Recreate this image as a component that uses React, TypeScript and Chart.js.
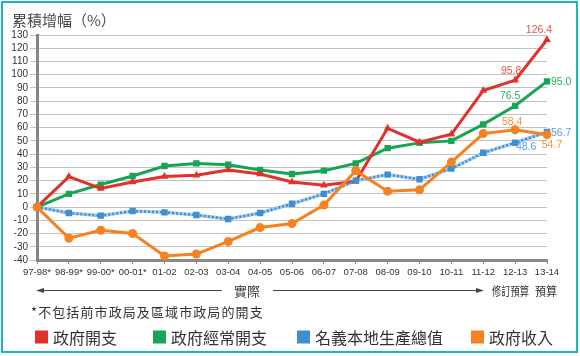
import React, { useEffect, useRef } from "react";
import { Chart, registerables } from "chart.js";

Chart.register(...registerables);

const categories = ["97-98*", "98-99*", "99-00*", "00-01*", "01-02", "02-03", "03-04", "04-05", "05-06", "06-07", "07-08", "08-09", "09-10", "10-11", "11-12", "12-13", "13-14"];
const govExpenditure = [0, 23, 14, 19, 23, 24, 28, 25, 19, 16.5, 19.5, 59.5, 49, 55, 88, 95.8, 126.4];
const recurrentExpenditure = [0, 10, 17, 23.5, 31, 33, 32, 28, 25, 27.5, 33, 44.5, 48.5, 50, 62.5, 76.5, 95.0];
const nominalGDP = [0, -4.5, -6.5, -3, -4, -6, -9, -4.5, 2.5, 10, 20, 24.5, 21, 29, 41, 48.6, 56.7];
const govRevenue = [0, -23.5, -17.5, -20, -37, -35.5, -26, -15.5, -12.5, 1.5, 27.5, 12, 13, 34, 55.5, 58.4, 54.7];

const seriesNames = ["政府開支", "政府經常開支", "名義本地生產總值", "政府收入"];
const seriesColors = ["#e2312b", "#17a454", "#3d8fd1", "#f5821f"];
const labelColors = ["#e8524a", "#2aae63", "#5aa3dd", "#f39433"];

const yMin = -40;
const yMax = 130;
const yStep = 10;

const titleText = "累積增幅（%）";
const footnoteText = "*不包括前市政局及區域市政局的開支";
const actualText = "實際";
const revisedText = "修訂預算";
const budgetText = "預算";

const LATIN = '"Liberation Sans", Arial, sans-serif';
const CJK = '"Noto Sans CJK TC", "Liberation Sans", sans-serif';

export default function App() {
  const ref = useRef<HTMLCanvasElement | null>(null);

  useEffect(() => {
    const canvas = ref.current;
    if (!canvas) return;

    const overlay = {
      id: "overlay",
      afterDraw(chart: any) {
        const ctx = chart.ctx as CanvasRenderingContext2D;
        ctx.save();

        // Title
        ctx.fillStyle = "#4a4a4a";
        ctx.font = `15px ${CJK}`;
        ctx.textAlign = "left";
        ctx.textBaseline = "middle";
        ctx.fillText(titleText, 12, 20);

        // Data labels
        const lab = (dsIndex: number, idx: number, dx: number, dy: number, align: CanvasTextAlign, colorIdx: number) => {
          const meta = chart.getDatasetMeta(dsIndex);
          const pt = meta.data[idx];
          const v = chart.data.datasets[dsIndex].data[idx] as number;
          ctx.fillStyle = labelColors[colorIdx];
          ctx.font = `10.5px ${LATIN}`;
          ctx.textAlign = align;
          ctx.textBaseline = "middle";
          ctx.fillText(v.toFixed(1), pt.x + dx, pt.y + dy);
        };
        const n = categories.length;
        lab(0, n - 1, -8, -10, "center", 0);
        lab(0, n - 2, -4, -9, "center", 0);
        lab(1, n - 1, 4, 1, "left", 1);
        lab(1, n - 2, -5, -10, "center", 1);
        lab(2, n - 1, 4, 1, "left", 2);
        lab(2, n - 2, 11, 4, "center", 2);
        lab(3, n - 1, 5, 10, "center", 3);
        lab(3, n - 2, -3, -8, "center", 3);

        // Arrow row
        const ay = 290;
        ctx.strokeStyle = "#444";
        ctx.fillStyle = "#444";
        ctx.lineWidth = 1;
        ctx.beginPath();
        ctx.moveTo(42, ay + 0.5);
        ctx.lineTo(222, ay + 0.5);
        ctx.moveTo(273, ay + 0.5);
        ctx.lineTo(478, ay + 0.5);
        ctx.stroke();
        ctx.beginPath();
        ctx.moveTo(36, ay + 0.5);
        ctx.lineTo(44, ay - 2);
        ctx.lineTo(44, ay + 3);
        ctx.closePath();
        ctx.fill();
        ctx.beginPath();
        ctx.moveTo(484, ay + 0.5);
        ctx.lineTo(476, ay - 2);
        ctx.lineTo(476, ay + 3);
        ctx.closePath();
        ctx.fill();

        ctx.fillStyle = "#333";
        ctx.font = `13px ${CJK}`;
        ctx.textAlign = "center";
        ctx.textBaseline = "middle";
        ctx.fillText(actualText, 247, 291);
        ctx.textAlign = "left";
        ctx.font = `12px ${CJK}`;
        ctx.fillText(revisedText, 492, 291, 37);
        ctx.fillText(budgetText, 535, 291, 22);

        // Footnote
        ctx.font = `13px ${CJK}`;
        ctx.fillStyle = "#333";
        (ctx as any).letterSpacing = "1.1px";
        ctx.fillText(footnoteText, 31, 312);
        (ctx as any).letterSpacing = "0px";

        // Legend
        const legendX = [35, 153, 297, 471];
        const ly = 337;
        ctx.font = `16px ${CJK}`;
        for (let i = 0; i < 4; i++) {
          ctx.fillStyle = seriesColors[i];
          ctx.fillRect(legendX[i], ly - 6.5, 13, 13);
          ctx.fillStyle = "#333";
          ctx.textAlign = "left";
          ctx.fillText(seriesNames[i], legendX[i] + 18, ly + 1);
        }

        ctx.restore();
      },
    };

    const chart = new Chart(canvas, {
      type: "line",
      data: {
        labels: categories,
        datasets: [
          {
            label: seriesNames[0],
            data: govExpenditure,
            borderColor: seriesColors[0],
            backgroundColor: seriesColors[0],
            borderWidth: 3,
            pointStyle: "triangle",
            pointRadius: 4.5,
            pointBorderWidth: 0,
            tension: 0,
            order: 3,
          },
          {
            label: seriesNames[1],
            data: recurrentExpenditure,
            borderColor: seriesColors[1],
            backgroundColor: seriesColors[1],
            borderWidth: 3,
            pointStyle: "rect",
            pointRadius: 4.5,
            pointBorderWidth: 0,
            tension: 0,
            order: 4,
          },
          {
            label: seriesNames[2],
            data: nominalGDP,
            borderColor: seriesColors[2],
            backgroundColor: seriesColors[2],
            borderWidth: 2.5,
            borderDash: [2, 2],
            pointStyle: "rect",
            pointRadius: 4.5,
            pointBorderWidth: 0,
            tension: 0,
            order: 2,
          },
          {
            label: seriesNames[3],
            data: govRevenue,
            borderColor: seriesColors[3],
            backgroundColor: seriesColors[3],
            borderWidth: 3,
            pointStyle: "circle",
            pointRadius: 4.5,
            pointBorderWidth: 0,
            tension: 0,
            order: 1,
          },
          {
            label: "gdp-under",
            data: nominalGDP,
            borderColor: "#a8cdee",
            backgroundColor: "#a8cdee",
            borderWidth: 3.5,
            pointRadius: 0,
            tension: 0,
            order: 5,
          },
        ],
      },
      options: {
        responsive: false,
        animation: false,
        devicePixelRatio: 1,
        layout: { padding: { left: 0, right: 33, top: 35, bottom: 0 } },
        plugins: {
          legend: { display: false },
          title: { display: false },
          tooltip: { enabled: false },
        },
        scales: {
          x: {
            type: "category",
            offset: false,
            grid: { display: true, drawOnChartArea: false, drawTicks: true, tickLength: 4, color: "#8a8a8a", lineWidth: 1 },
            border: { display: true, color: "#8a8a8a", width: 3 },
            ticks: {
              autoSkip: false,
              maxRotation: 0,
              minRotation: 0,
              padding: 3,
              color: "#333",
              font: { family: LATIN, size: 9.5 },
            },
            afterFit: (s: any) => {
              s.height = 96;
            },
          },
          y: {
            min: yMin,
            max: yMax,
            ticks: {
              stepSize: yStep,
              autoSkip: false,
              padding: 2,
              color: "#333",
              font: { family: LATIN, size: 10 },
            },
            grid: { color: "#c2c2c2", lineWidth: 1, tickLength: 7, drawTicks: true },
            border: { display: true, color: "#858585", width: 3 },
            afterFit: (s: any) => {
              s.width = 37;
            },
          },
        },
      },
      plugins: [overlay],
    } as any);

    return () => {
      chart.destroy();
    };
  }, []);

  return (
    <div style={{ position: "absolute", left: 0, top: 0, width: 580, height: 356, background: "#fff" }}>
      <div
        style={{
          position: "absolute",
          left: 1,
          top: 1,
          width: 577,
          height: 352,
          boxSizing: "border-box",
          border: "2px solid #1db3c0",
        }}
      />
      <canvas ref={ref} width={580} height={356} style={{ position: "absolute", left: 0, top: 0, display: "block" }} />
    </div>
  );
}
